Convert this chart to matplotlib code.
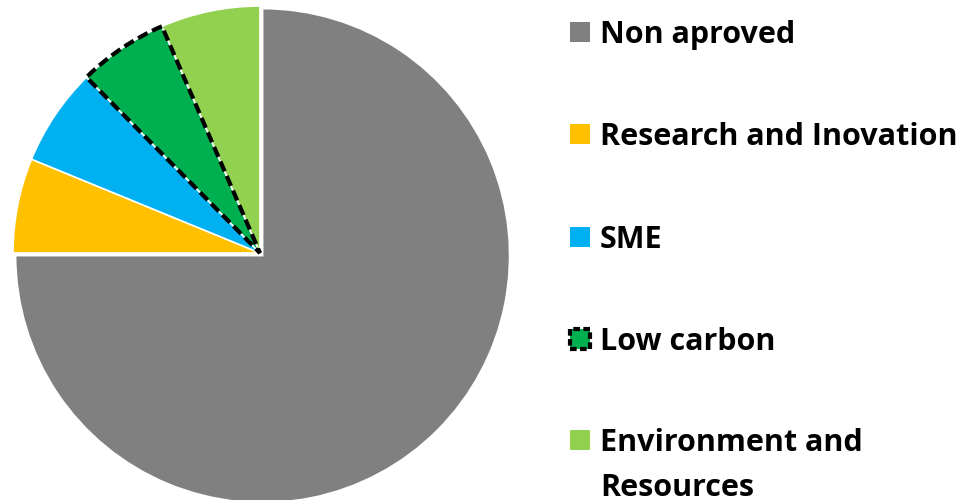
import matplotlib.pyplot as plt
from matplotlib.patches import Rectangle, Wedge

labels = ["Non aproved", "Research and Inovation", "SME", "Low carbon", "Environment and\nResources"]
values = [75.0, 6.2, 6.4, 5.9, 6.5]
colors = ["#808080", "#FFC000", "#00B0F0", "#00B050", "#92D050"]
explode = [0.015, 0, 0, 0, 0]

plt.rcParams['font.family'] = ['Open Sans', 'DejaVu Sans']

fig = plt.figure(figsize=(9.78, 5.0), dpi=100)
W, H = 978, 500
r_px = 247
cx, cy = 260, 253
ax = fig.add_axes([(cx - r_px) / W, (H - cy - r_px) / H, 2 * r_px / W, 2 * r_px / H])

wedges, _ = ax.pie(values, colors=colors, startangle=90, counterclock=False,
                   explode=explode, wedgeprops=dict(edgecolor="white", linewidth=1.2))
# contour pointille sur "Low carbon"
lc = wedges[3]
dash = Wedge(lc.center, lc.r, lc.theta1, lc.theta2, facecolor="none", edgecolor="black",
             linewidth=3.0, linestyle=(0, (2.6, 1.2)), joinstyle="miter")
ax.add_patch(dash)
ax.set_xlim(-1, 1)
ax.set_ylim(-1, 1)
ax.set_aspect("equal")
ax.axis("off")

# legende faite a la main
ys = [32, 134, 237, 339, 440]
sq = 20
for i, lab in enumerate(labels):
    y = ys[i]
    if i == 3:
        rect = Rectangle((570 / W, (H - y - sq / 2) / H), sq / W, sq / H, transform=fig.transFigure,
                         facecolor=colors[i], edgecolor="black", linewidth=3.0, linestyle=(0, (1.6, 0.8)))
    else:
        rect = Rectangle((570 / W, (H - y - sq / 2) / H), sq / W, sq / H, transform=fig.transFigure,
                         facecolor=colors[i], edgecolor="none")
    fig.patches.append(rect)
    for k, line in enumerate(lab.split("\n")):
        fig.text(600 / W, (H - y - 3 - 45 * k) / H, line, fontsize=22, fontweight="bold",
                 va="center", ha="left")

fig.savefig("out.png", dpi=100)
